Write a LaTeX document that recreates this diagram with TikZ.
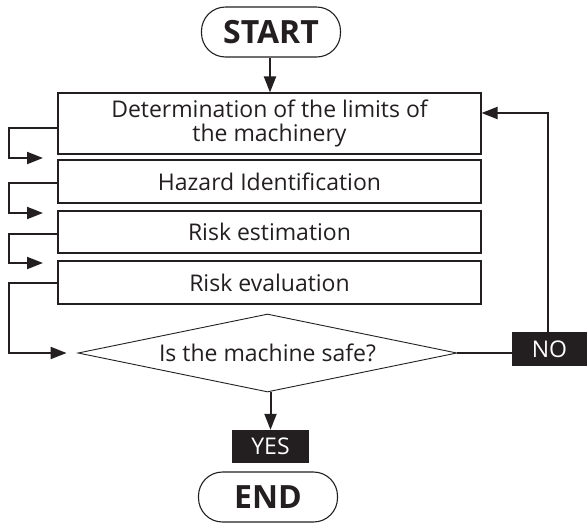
\documentclass[tikz,border=0pt]{standalone}
\usepackage{fontspec}
\setmainfont{Open Sans}
\usetikzlibrary{shapes.geometric,arrows.meta}
\definecolor{ink}{HTML}{231F20}
\begin{document}
\begin{tikzpicture}[x=1pt,y=-1pt,
  every node/.style={text=ink,font=\fontsize{23}{24}\selectfont,inner sep=0pt},
  term/.style={draw=ink,line width=1.1pt,rounded corners=24pt,minimum width=139pt,minimum height=50pt,font=\fontsize{32}{34}\selectfont\bfseries},
  stepbox/.style={draw=ink,line width=1.1pt,minimum width=423pt,align=center},
  decide/.style={draw=ink,line width=0.9pt,diamond,aspect=4.86,minimum width=379pt,minimum height=78pt},
  tag/.style={fill=ink,text=white,minimum height=34pt},
  arr/.style={draw=ink,line width=2pt,-{Triangle[length=16pt,width=12pt]}},
  ln/.style={draw=ink,line width=2pt}]
\useasboundingbox (0,0) rectangle (587,523);
\node[term] (start) at (271,32) {START};
\node[stepbox,minimum height=61pt] (b1) at (269.5,123.5) {Determination of the limits of\\the machinery};
\node[stepbox,minimum height=43pt] (b2) at (269.5,181.5) {Hazard Identification};
\node[stepbox,minimum height=42pt] (b3) at (269.5,232) {Risk estimation};
\node[stepbox,minimum height=43pt] (b4) at (269.5,282.5) {Risk evaluation};
\node[decide] (d) at (267.5,353) {Is the machine safe?};
\node[tag,minimum width=75pt] (no) at (549.5,349) {NO};
\node[tag,minimum width=77pt,minimum height=33pt] (yes) at (270.5,446.5) {YES};
\node[term] (end) at (268,497) {END};
\coordinate (c1) at (9,158); \coordinate (e1) at (43,158);
\coordinate (c2) at (9,213); \coordinate (e2) at (43,213);
\coordinate (c3) at (9,263); \coordinate (e3) at (43,263);
\coordinate (c4) at (9,353);
\draw[arr] (start.south -| 270,0) -- (b1.north -| 270,0);
\draw[arr] ([yshift=-4.5pt]b1.west) -| (c1) -- (e1);
\draw[arr] ([yshift=-1.5pt]b2.west) -| (c2) -- (e2);
\draw[arr] ([yshift=-2pt]b3.west) -| (c3) -- (e3);
\draw[arr,shorten >=11pt] (b4.west) -| (c4) -- (d.west);
\draw[ln] (d.east) -- (d.east -| no.west);
\draw[arr] (no.north -| 548,0) |- ([yshift=10.5pt]b1.east);
\draw[arr] (yes.north |- d.south) -- (yes.north);
\end{tikzpicture}
\end{document}
